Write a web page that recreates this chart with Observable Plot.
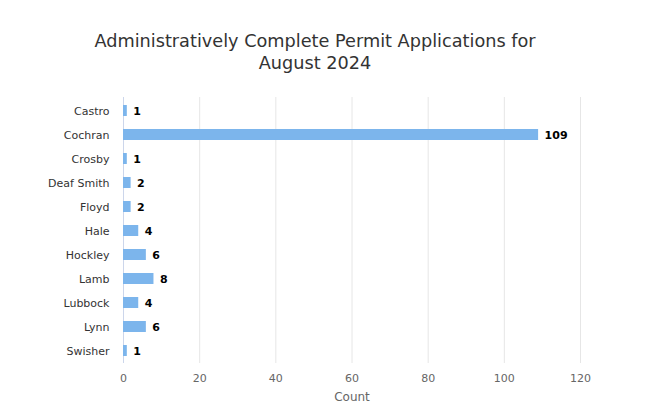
<!DOCTYPE html>
<html><head><meta charset="utf-8">
<script src="https://cdn.jsdelivr.net/npm/d3@7"></script>
<script src="https://cdn.jsdelivr.net/npm/@observablehq/plot@0.6"></script>
<style>
body{margin:0;background:#fff;font-family:"DejaVu Sans",sans-serif;}
#wrap{position:relative;width:649px;height:415px;}
#title{position:absolute;left:0;top:31px;width:630px;text-align:center;font-size:17.7px;line-height:21.5px;color:#333;}
#chart{position:absolute;left:0;top:0;}
</style></head>
<body>
<div id="wrap"><div id="chart"></div><div id="title">Administratively Complete Permit Applications for<br>August 2024</div></div>
<script>
const counties = ["Castro","Cochran","Crosby","Deaf Smith","Floyd","Hale","Hockley","Lamb","Lubbock","Lynn","Swisher"];
const counts = [1,109,1,2,2,4,6,8,4,6,1];
const xTicks = [0,20,40,60,80,100,120];
const data = counties.map((c,i)=>({county:c,count:counts[i]}));

const plot = Plot.plot({
  width:649, height:415,
  marginLeft:123, marginRight:69, marginTop:97, marginBottom:52,
  style:{fontFamily:"DejaVu Sans, sans-serif", fontSize:"11px", background:"#fff"},
  x:{domain:[0,120], ticks:xTicks, label:null},
  y:{domain:counties, paddingInner:0.545, paddingOuter:0.2725, label:null},
  marks:[
    Plot.ruleX(xTicks.slice(1), {stroke:"#e6e6e6", strokeWidth:1}),
    Plot.ruleX([0], {stroke:"#ccd6eb", strokeWidth:1}),
    Plot.barX(data, {y:"county", x:"count", fill:"#7cb5ec"}),
    Plot.text(data, {y:"county", x:"count", text:d=>String(d.count), dx:6, textAnchor:"start", fontWeight:"bold", fill:"#000", stroke:"#fff", strokeWidth:2, fontSize:11}),
    Plot.axisY({tickSize:0, tickPadding:14, fill:"#333", fontSize:11}),
    Plot.axisX({ticks:xTicks, tickSize:0, tickPadding:11, fill:"#666", fontSize:11}),
    Plot.text(["Count"], {frameAnchor:"bottom", dy:37, fill:"#666", fontSize:12})
  ]
});
document.getElementById("chart").appendChild(plot);
</script>
</body></html>
